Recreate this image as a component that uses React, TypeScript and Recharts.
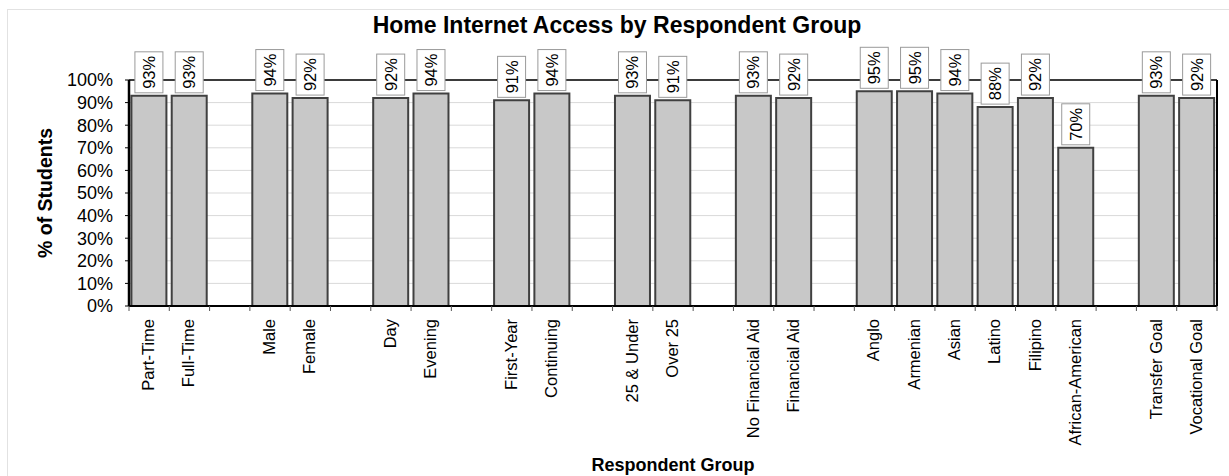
import React from 'react';
import {
  BarChart,
  Bar,
  XAxis,
  YAxis,
  CartesianGrid,
  ReferenceLine,
  LabelList,
} from 'recharts';

// Respondent groups; empty strings are spacer slots between groups.
const categories: string[] = [
  'Part-Time', 'Full-Time', '',
  'Male', 'Female', '',
  'Day', 'Evening', '',
  'First-Year', 'Continuing', '',
  '25 & Under', 'Over 25', '',
  'No Financial Aid', 'Financial Aid', '',
  'Anglo', 'Armenian', 'Asian', 'Latino', 'Filipino', 'African-American', '',
  'Transfer Goal', 'Vocational Goal',
];

// Share of students with home internet access (%), null for spacer slots.
const shares: (number | null)[] = [
  93, 93, null,
  94, 92, null,
  92, 94, null,
  91, 94, null,
  93, 91, null,
  93, 92, null,
  95, 95, 94, 88, 92, 70, null,
  93, 92,
];

const yTicks: number[] = [0, 10, 20, 30, 40, 50, 60, 70, 80, 90, 100];

const TITLE = 'Home Internet Access by Respondent Group';
const Y_TITLE = '% of Students';
const X_TITLE = 'Respondent Group';

const data = categories.map((label, i) => ({
  slot: `slot-${i}`,
  label,
  value: shares[i],
}));

const FONT = '"Liberation Sans", Arial, Helvetica, sans-serif';

const W = 1229;
const H = 476;
const MARGIN = { top: 80, right: 11, bottom: 0, left: 69 };
const Y_AXIS_W = 60;
const RIGHT_AXIS_W = 1;
const X_AXIS_H = 170;
const PLOT_W = W - MARGIN.left - Y_AXIS_W - MARGIN.right - RIGHT_AXIS_W;
const BAND = PLOT_W / categories.length;

// Category label rotated to read bottom-to-top, plus Excel-style tick marks on band edges.
function CategoryTick(props: any) {
  const { x, y, payload } = props;
  const idx: number = payload?.index ?? 0;
  const label = categories[idx] ?? '';
  const axisY = y - 13;
  const left = x - BAND / 2;
  const right = x + BAND / 2;
  return (
    <g>
      <line x1={left} x2={left} y1={axisY} y2={axisY + 5} stroke="#555" strokeWidth={1} />
      {idx === categories.length - 1 && (
        <line x1={right} x2={right} y1={axisY} y2={axisY + 5} stroke="#555" strokeWidth={1} />
      )}
      {label && (
        <text
          transform={`translate(${x},${y}) rotate(-90)`}
          x={0}
          y={0}
          dy={5}
          textAnchor="end"
          fontFamily={FONT}
          fontSize={16.5}
          fill="#000"
        >
          {label}
        </text>
      )}
    </g>
  );
}

// Boxed, rotated percentage label sitting just above each bar.
function ValueBox(props: any) {
  const { x, y, width, value } = props;
  if (value === null || value === undefined) return null;
  const cx = Number(x) + Number(width) / 2;
  const boxW = 28;
  const boxH = 41;
  const bottom = Number(y) - 3;
  const cy = bottom - boxH / 2;
  return (
    <g>
      <rect
        x={cx - boxW / 2}
        y={bottom - boxH}
        width={boxW}
        height={boxH}
        fill="#fff"
        stroke="#9a9a9a"
        strokeWidth={1}
      />
      <text
        transform={`translate(${cx},${cy}) rotate(-90)`}
        x={0}
        y={0}
        textAnchor="middle"
        dominantBaseline="central"
        fontFamily={FONT}
        fontSize={16.5}
        fill="#000"
      >
        {`${value}%`}
      </text>
    </g>
  );
}

function YTitle(props: any) {
  const vb = props.viewBox || { x: 69, y: 80, width: 60, height: 226 };
  const cx = vb.x - 24;
  const cy = vb.y + vb.height / 2;
  return (
    <text
      transform={`translate(${cx},${cy}) rotate(-90)`}
      x={0}
      y={0}
      textAnchor="middle"
      dominantBaseline="central"
      fontFamily={FONT}
      fontSize={19.5}
      fontWeight="bold"
      fill="#000"
    >
      {Y_TITLE}
    </text>
  );
}

function XTitle(props: any) {
  const vb = props.viewBox || { x: 129, y: 306, width: 1088, height: 170 };
  const cx = vb.x + vb.width / 2;
  return (
    <text
      x={cx}
      y={vb.y + 165}
      textAnchor="middle"
      fontFamily={FONT}
      fontSize={18}
      fontWeight="bold"
      fill="#000"
    >
      {X_TITLE}
    </text>
  );
}

export default function App() {
  return (
    <div
      style={{
        position: 'absolute',
        left: 0,
        top: 0,
        width: W,
        height: H,
        overflow: 'hidden',
        background: '#fff',
      }}
    >
      <div
        style={{
          position: 'absolute',
          left: 7,
          top: 9,
          width: W + 20,
          height: H + 20,
          borderTop: '1px solid #e2e2e2',
          borderLeft: '1px solid #e2e2e2',
        }}
      />
      <div
        style={{
          position: 'absolute',
          left: 0,
          top: 12,
          width: 1234,
          textAlign: 'center',
          fontFamily: FONT,
          fontWeight: 'bold',
          fontSize: 23,
          lineHeight: '26px',
          color: '#000',
        }}
      >
        {TITLE}
      </div>
      <div style={{ position: 'absolute', left: 0, top: 0 }}>
        <BarChart
          width={W}
          height={H}
          data={data}
          margin={MARGIN}
          barCategoryGap="6%"
        >
          <CartesianGrid vertical={false} stroke="#d9d9d9" strokeWidth={1} />
          <ReferenceLine y={100} stroke="#000" strokeWidth={1.5} />
          <XAxis
            dataKey="slot"
            interval={0}
            height={X_AXIS_H}
            tickLine={false}
            tickSize={0}
            tickMargin={13}
            axisLine={{ stroke: '#000', strokeWidth: 2 }}
            tick={<CategoryTick />}
            label={<XTitle />}
          />
          <YAxis
            domain={[0, 100]}
            ticks={yTicks}
            interval={0}
            width={Y_AXIS_W}
            tickFormatter={(v: number) => `${v}%`}
            tickSize={4}
            tickMargin={12}
            tickLine={{ stroke: '#000' }}
            axisLine={{ stroke: '#000', strokeWidth: 2.5 }}
            tick={{ fontFamily: FONT, fontSize: 18, fill: '#000' }}
            label={<YTitle />}
          />
          <YAxis
            yAxisId="frame"
            orientation="right"
            width={RIGHT_AXIS_W}
            tick={false}
            tickLine={false}
            axisLine={{ stroke: '#000', strokeWidth: 2 }}
          />
          <Bar
            dataKey="value"
            fill="#c8c8c8"
            stroke="#404040"
            strokeWidth={2}
            isAnimationActive={false}
          >
            <LabelList dataKey="value" content={<ValueBox />} />
          </Bar>
        </BarChart>
      </div>
    </div>
  );
}
